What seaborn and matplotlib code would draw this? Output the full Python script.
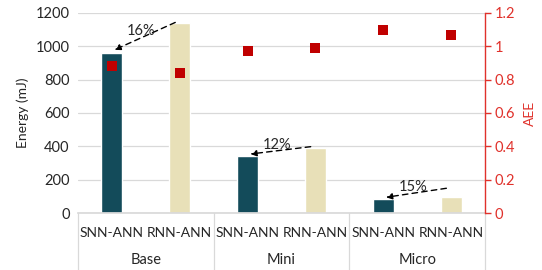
import matplotlib
matplotlib.use("Agg")
import matplotlib.pyplot as plt
import matplotlib.transforms as mtransforms
import seaborn as sns
import pandas as pd

groups = ["Base", "Mini", "Micro"]
models = ["SNN-ANN", "RNN-ANN"]
energy = [962, 1140, 342, 390, 82, 96]
aee = [0.88, 0.84, 0.97, 0.99, 1.10, 1.07]
savings = ["16%", "12%", "15%"]

slots = [f"{g}|{m}" for g in groups for m in models]
df = pd.DataFrame({
    "slot": slots,
    "model": [m for g in groups for m in models],
    "energy": energy,
    "aee": aee,
})

sns.set_theme(style="white")
plt.rcParams["font.family"] = ["Lato", "DejaVu Sans"]

FS = 10
fig = plt.figure(figsize=(5.42, 2.70), dpi=100)
ax = fig.add_axes([0.144, 0.211, 0.751, 0.741])

teal = "#134B5A"
beige = "#E8E0B8"
red_axis = "#E0312B"
red_mark = "#C00000"
txt = "#262626"

sns.barplot(data=df, x="slot", y="energy", hue="model", order=slots,
            palette={"SNN-ANN": teal, "RNN-ANN": beige}, dodge=False,
            width=0.31, legend=False, ax=ax, saturation=1)

ax.set_ylim(0, 1200)
ax.set_xlim(-0.5, 5.5)
ax.set_yticks(range(0, 1201, 200))
ax.tick_params(axis="y", labelsize=10.5, length=0, pad=6, colors=txt)
ax.set_xticks(range(6))
ax.set_xticklabels([m for g in groups for m in models], fontsize=FS, color=txt)
ax.tick_params(axis="x", length=0, pad=10)
ax.grid(axis="y", color="#D9D9D9", linewidth=0.9)
ax.set_axisbelow(True)
for s in ["left", "top", "right"]:
    ax.spines[s].set_visible(False)
ax.spines["bottom"].set_color("#D9D9D9")
ax.set_xlabel("")
ax.set_ylabel("Energy (mJ)", fontsize=FS, color=txt, labelpad=5)

# group labels and separators
trans = mtransforms.blended_transform_factory(ax.transData, ax.transAxes)
for i, g in enumerate(groups):
    ax.text(2 * i + 0.5, -0.235, g, transform=trans, ha="center", va="center",
            fontsize=10.5, color=txt)
for xs in [-0.5, 1.5, 3.5, 5.5]:
    ax.plot([xs, xs], [0, -0.29], transform=trans, color="#D9D9D9",
            linewidth=0.9, clip_on=False)

# arrows
for i, lab in enumerate(savings):
    x0, x1 = 2 * i + 1, 2 * i
    y0 = energy[2 * i + 1] + (10 if i < 2 else 55)
    y1 = energy[2 * i] + 10
    x0a = x0 - 0.03
    ax.annotate("", xy=(x1, y1), xytext=(x0a, y0),
                arrowprops=dict(arrowstyle="-|>", linestyle=(0, (4, 3)),
                                color="black", lw=1.0, mutation_scale=9))
    ax.text((x0a + x1) / 2 - 0.05, (y0 + y1) / 2 + 32, lab, ha="center",
            va="center", fontsize=10.5, color=txt)

ax2 = ax.twinx()
ax2.set_position(ax.get_position())
sns.scatterplot(data=df, x="slot", y="aee", ax=ax2, marker="s", s=55,
                color=red_mark, edgecolor=red_mark, linewidth=0, legend=False)
ax2.set_ylim(0, 1.2)
ax2.set_yticks([0, 0.2, 0.4, 0.6, 0.8, 1.0, 1.2])
ax2.set_yticklabels(["0", "0.2", "0.4", "0.6", "0.8", "1", "1.2"])
ax2.tick_params(axis="y", colors=red_axis, labelsize=10.5, length=4, width=1,
                direction="out", pad=3)
ax2.set_ylabel("AEE", color=red_axis, fontsize=FS, labelpad=6)
for s in ["left", "top", "bottom"]:
    ax2.spines[s].set_visible(False)
ax2.spines["right"].set_color(red_axis)
ax2.spines["right"].set_linewidth(1)
ax2.grid(False)
ax2.set_xlim(-0.5, 5.5)
ax2.set_xlabel("")

fig.savefig("out.png", dpi=100)
